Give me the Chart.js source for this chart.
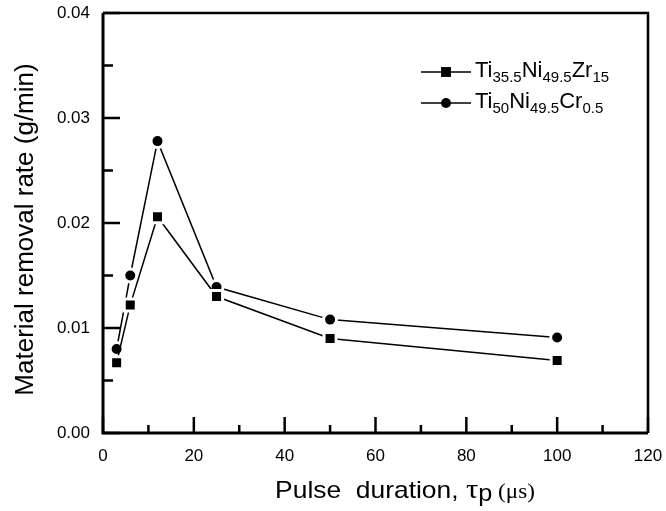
<!DOCTYPE html>
<html>
<head>
<meta charset="utf-8">
<script src="https://cdn.jsdelivr.net/npm/chart.js@4.4.0/dist/chart.umd.min.js"></script>
<style>
  html, body { margin: 0; padding: 0; background: #fff; }
</style>
</head>
<body>
<canvas id="mrrChart" width="666" height="511"></canvas>
<script>
// pulse duration (us) and material removal rate (g/min)
const pulseDurations = [3, 6, 12, 25, 50, 100];
const mrrTiNiZr = [0.0067, 0.0122, 0.0206, 0.0130, 0.0090, 0.0069];
const mrrTiNiCr = [0.0080, 0.0150, 0.0278, 0.0139, 0.0108, 0.0091];

const xTickValues = [0, 20, 40, 60, 80, 100, 120];
const yTickValues = [0, 0.01, 0.02, 0.03, 0.04];

const seriesNames = ['Ti35.5Ni49.5Zr15', 'Ti50Ni49.5Cr0.5'];
// legend text split into normal / subscript parts
const legendParts = [
    [['Ti', 0], ['35.5', 1], ['Ni', 0], ['49.5', 1], ['Zr', 0], ['15', 1]],
    [['Ti', 0], ['50', 1], ['Ni', 0], ['49.5', 1], ['Cr', 0], ['0.5', 1]]
];

const SANS = "'Liberation Sans', Arial, Helvetica, sans-serif";
const SERIF = "'Liberation Serif', 'Times New Roman', serif";

const toPoints = (ys) => pulseDurations.map((x, i) => ({ x: x, y: ys[i] }));

const markerStyles = [
    { pointStyle: 'rect', radius: 8.5 },
    { pointStyle: 'circle', radius: 6.5 }
];

function drawFrame(chart) {
    const c = chart.ctx;
    const xs = chart.scales.x, ys = chart.scales.y;
    // frame follows the axis range, not the padded chart area
    const left = xs.getPixelForValue(xTickValues[0]);
    const right = xs.getPixelForValue(xTickValues[xTickValues.length - 1]);
    const bottom = ys.getPixelForValue(yTickValues[0]);
    const top = ys.getPixelForValue(yTickValues[yTickValues.length - 1]);
    c.save();
    c.strokeStyle = '#000000';

    c.lineWidth = 3;
    c.beginPath();
    c.moveTo(left, top);
    c.lineTo(left, bottom);
    c.lineTo(right, bottom);
    c.stroke();
    c.lineWidth = 2.5;
    c.beginPath();
    c.moveTo(left, top);
    c.lineTo(right, top);
    c.lineTo(right, bottom);
    c.stroke();

    // inward ticks, major + minor
    c.beginPath();
    xTickValues.forEach((v, i) => {
        const px = xs.getPixelForValue(v);
        c.moveTo(px, bottom);
        c.lineTo(px, bottom - 16);
        if (i < xTickValues.length - 1) {
            const mx = xs.getPixelForValue((v + xTickValues[i + 1]) / 2);
            c.moveTo(mx, bottom);
            c.lineTo(mx, bottom - 8);
        }
    });
    yTickValues.forEach((v, i) => {
        const py = ys.getPixelForValue(v);
        c.moveTo(left, py);
        c.lineTo(left + 17, py);
        if (i < yTickValues.length - 1) {
            const my = ys.getPixelForValue((v + yTickValues[i + 1]) / 2);
            c.moveTo(left, my);
            c.lineTo(left + 10, my);
        }
    });
    c.stroke();
    c.restore();
}

function drawTitles(c) {
    c.save();
    c.fillStyle = '#000';

    // y axis title
    c.save();
    c.translate(26, (62 + 397) / 2);
    c.rotate(-Math.PI / 2);
    c.font = '26px ' + SANS;
    c.textAlign = 'center';
    c.textBaseline = 'middle';
    c.fillText('Material removal rate (g/min)', 0, 0);
    c.restore();

    // x axis title: Pulse  duration, τp (μs)
    const pieces = [
        { t: 'Pulse  duration, ', f: '24px ' + SANS, dy: 0 },
        { t: '\u03c4', f: '28px ' + SERIF, dy: 0 },
        { t: 'p', f: '23px ' + SANS, dy: 3 },
        { t: ' (\u03bcs)', f: '21px ' + SERIF, dy: 0 }
    ];
    const sx = 1.1;
    let total = 0;
    pieces.forEach(p => { c.font = p.f; p.w = c.measureText(p.t).width; total += p.w; });
    c.save();
    c.translate(405 - total * sx / 2, 498);
    c.scale(sx, 1);
    c.textAlign = 'left';
    c.textBaseline = 'alphabetic';
    let cx = 0;
    pieces.forEach(p => {
        c.font = p.f;
        c.fillText(p.t, cx, p.dy);
        cx += p.w;
    });
    c.restore();
    c.restore();
}

function drawLegend(c) {
    const rowY = [72, 103];
    c.save();
    legendParts.forEach((parts, r) => {
        const y = rowY[r];
        c.strokeStyle = '#000';
        c.lineWidth = 1.5;
        c.beginPath();
        c.moveTo(421, y);
        c.lineTo(471, y);
        c.stroke();
        c.fillStyle = '#000';
        Chart.helpers.drawPoint(c, {
            pointStyle: markerStyles[r].pointStyle,
            radius: markerStyles[r].radius - 1.5,
            borderWidth: 0,
            rotation: 0
        }, 446, y);
        let tx = 475;
        c.textAlign = 'left';
        c.textBaseline = 'alphabetic';
        parts.forEach(([txt, sub]) => {
            c.font = (sub ? '15px ' : '22px ') + SANS;
            c.fillStyle = '#000';
            c.fillText(txt, tx, y + (sub ? 10 : 5));
            tx += c.measureText(txt).width;
        });
    });
    c.restore();
}

const framePlugin = {
    id: 'framePlugin',
    afterDraw(chart) {
        drawFrame(chart);
        drawTitles(chart.ctx);
        drawLegend(chart.ctx);
    }
};

const chart = new Chart(document.getElementById('mrrChart').getContext('2d'), {
    type: 'line',
    data: {
        datasets: [
            {
                label: seriesNames[0],
                data: toPoints(mrrTiNiZr),
                borderColor: '#000',
                borderWidth: 1.5,
                pointStyle: markerStyles[0].pointStyle,
                pointRadius: markerStyles[0].radius,
                pointBackgroundColor: '#000',
                pointBorderColor: '#fff',
                pointBorderWidth: 3,
                tension: 0
            },
            {
                label: seriesNames[1],
                data: toPoints(mrrTiNiCr),
                borderColor: '#000',
                borderWidth: 1.5,
                pointStyle: markerStyles[1].pointStyle,
                pointRadius: markerStyles[1].radius,
                pointBackgroundColor: '#000',
                pointBorderColor: '#fff',
                pointBorderWidth: 3,
                tension: 0
            }
        ]
    },
    options: {
        responsive: false,
        animation: false,
        devicePixelRatio: 1,
        layout: { padding: 0 },
        plugins: {
            legend: { display: false },
            tooltip: { enabled: false }
        },
        scales: {
            x: {
                type: 'linear',
                min: 0,
                max: 120,
                afterBuildTicks: (scale) => { scale.ticks = xTickValues.map(v => ({ value: v })); },
                afterFit: (scale) => {
                    scale.height = 78;
                    scale.paddingLeft = 0;
                    scale.paddingRight = 18;
                },
                grid: { display: false, drawTicks: false },
                border: { display: false },
                ticks: {
                    color: '#000',
                    padding: 13,
                    maxRotation: 0,
                    font: { family: SANS, size: 17 }
                }
            },
            y: {
                type: 'linear',
                min: 0,
                max: 0.04,
                afterBuildTicks: (scale) => { scale.ticks = yTickValues.map(v => ({ value: v })); },
                afterFit: (scale) => {
                    scale.width = 103;
                    scale.paddingTop = 13;
                    scale.paddingBottom = 0;
                },
                grid: { display: false, drawTicks: false },
                border: { display: false },
                ticks: {
                    color: '#000',
                    padding: 13,
                    font: { family: SANS, size: 17 },
                    callback: (v) => Number(v).toFixed(2)
                }
            }
        }
    },
    plugins: [framePlugin]
});
</script>
</body>
</html>
